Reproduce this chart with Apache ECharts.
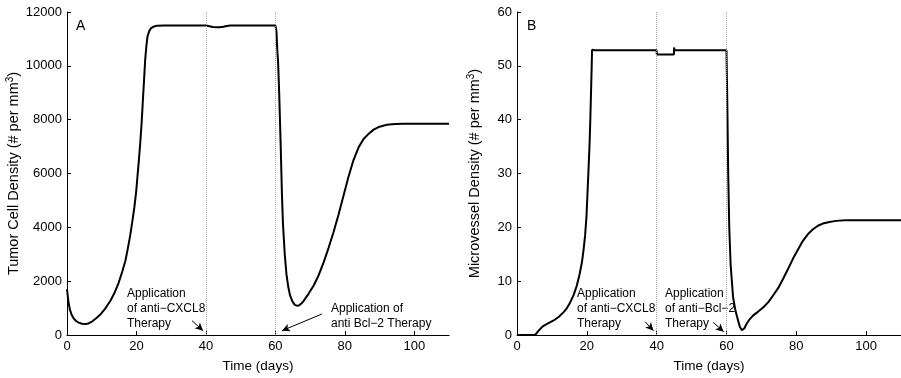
<!DOCTYPE html>
<html><head><meta charset="utf-8">
<script src="https://cdn.jsdelivr.net/npm/echarts@6/dist/echarts.min.js"></script>
<style>html,body{margin:0;padding:0;background:#fff}#c{width:901px;height:378px}</style>
</head><body><div id="c"></div>
<script>
// Panel A: tumor cell density
const tA = [0,0.4,0.8,1.3,1.9,2.6,3.4,4.3,5.3,6.2,7.2,8.4,9.6,11,12.5,13.8,14.9,15.9,16.8,17.5,18.2,18.8,19.4,19.9,20.3,20.7,21.1,21.5,21.8,22.2,22.5,22.9,23.2,23.7,24.2,25,25.9,28,40,41,42,43,44,45,46,47,60,60.3,60.6,60.8,61.1,61.5,61.9,62.2,62.7,63.2,63.7,64.2,64.9,65.6,66.2,66.8,67.5,68.1,69.5,71,72.5,73.9,75.3,76.7,78.2,79.6,81,82.5,84,85.4,86.9,88.3,90,92.1,94.5,97,110];
const yA = [1700,1250,960,760,620,520,460,420,405,430,500,620,760,980,1270,1600,1950,2350,2750,3200,3700,4200,4750,5300,5900,6500,7150,7900,8600,9500,10200,10800,11100,11300,11400,11460,11490,11500,11500,11470,11440,11430,11430,11450,11480,11500,11500,11300,10500,10100,9000,7200,5200,4100,3000,2250,1800,1480,1250,1120,1090,1100,1170,1260,1520,1830,2230,2700,3230,3800,4480,5160,5850,6500,6980,7280,7480,7630,7740,7810,7840,7850,7850];
// Panel B: microvessel density
const tB = [0,5.2,5.6,6.2,6.9,7.6,9,10.5,12,13.3,14.3,15.2,16.2,17.1,17.9,18.6,19.1,19.5,19.9,20.2,20.5,20.8,21,21.2,21.4,21.5,21.6,21.8,22.2,40,40.05,44.95,45,45.15,60,60.2,60.5,60.8,61.2,61.9,62.5,63,63.8,64.4,64.8,65.1,65.7,66.5,67.6,69,70.5,72,73.3,74.8,76.2,77.6,79,80.5,81.9,83.3,84.7,86.2,87.6,89.5,91.4,94,110];
const yB = [0,0,0.3,0.8,1.3,1.7,2.2,2.7,3.4,4.2,5,6,7.4,9.1,11.2,13.5,16,18.4,22,26.4,31,35.7,40,44.9,50,53,53.3,53,52.9,52.9,52.1,52.1,53.4,52.9,52.9,45,30,20,13,7,4.8,3.5,1.6,0.9,0.6,1.2,2.0,2.8,3.6,4.3,5.1,6.1,7.3,8.7,10.4,12.2,14.1,15.9,17.5,18.7,19.6,20.3,20.7,21.0,21.2,21.3,21.3];
const therapyDays = [40, 60];
const arrowsA = [[[36.0, 530], [39.2, 160]], [[73.4, 780], [61.9, 160]]];
const arrowsB = [[[36.7, 2.46], [39.1, 0.8]], [[56.2, 2.35], [59.2, 0.6]]];
const textsA = ['Application\nof anti\u2212CXCL8\nTherapy', 'Application of\nanti Bcl\u22122 Therapy'];
const textsB = ['Application\nof anti\u2212CXCL8\nTherapy', 'Application\nof anti\u2212Bcl\u22122\nTherapy'];

const FONT = "'Liberation Sans', Arial, Helvetica, sans-serif";
const chart = echarts.init(document.getElementById('c'), null, {renderer: 'canvas'});
function xAx(i) {
  return {
    gridIndex: i, type: 'value', min: 0, max: 110, interval: 20,
    axisLine: {lineStyle: {color: '#000', width: 1}},
    axisTick: {inside: true, length: 4, lineStyle: {color: '#000'}},
    splitLine: {show: false},
    axisLabel: {color: '#000', fontSize: 13, fontFamily: FONT, margin: 5,
      showMaxLabel: false},
    name: 'Time (days)', nameLocation: 'middle', nameGap: 24,
    nameTextStyle: {color: '#000', fontSize: 13.5, fontFamily: FONT}
  };
}
function yAx(i, max, interval, nm, gap) {
  return {
    gridIndex: i, type: 'value', min: 0, max: max, interval: interval,
    axisLine: {show: true, lineStyle: {color: '#000', width: 1}},
    axisTick: {show: true, inside: true, length: 4, lineStyle: {color: '#000'}},
    splitLine: {show: false},
    axisLabel: {color: '#000', fontSize: 13, fontFamily: FONT, margin: 5,
      formatter: v => String(v)},
    name: nm + ' (# per mm{sup|3})', nameLocation: 'middle', nameGap: gap,
    nameTextStyle: {color: '#000', fontSize: 14.5, fontFamily: FONT,
      rich: {sup: {fontSize: 10, fontFamily: FONT, color: '#000', verticalAlign: 'top', padding: [0, 0, 8, 0]}}}
  };
}
function arrowML(arr) {
  return {
    silent: true, symbol: ['none', 'arrow'], symbolSize: [6, 8],
    label: {show: false},
    lineStyle: {color: '#000', width: 1, type: 'solid'},
    data: arr.map(a => [{coord: a[0]}, {coord: a[1]}])
  };
}
function vlinesML() {
  return {
    silent: true, symbol: ['none', 'none'], label: {show: false},
    lineStyle: {color: '#a0a0a0', width: 1, type: 'dotted'},
    data: therapyDays.map(d => ({xAxis: d}))
  };
}
function txt(left, top, s) {
  return {type: 'text', left: left, top: top, silent: true,
    style: {text: s, font: '12px ' + FONT, fill: '#000', lineHeight: 15}};
}
chart.setOption({
  animation: false,
  backgroundColor: '#fff',
  grid: [
    {left: 67, top: 12, width: 382, height: 324},
    {left: 517, top: 12, width: 384, height: 324}
  ],
  xAxis: [xAx(0), xAx(1)],
  yAxis: [yAx(0, 12000, 2000, 'Tumor Cell Density', 35), yAx(1, 60, 10, 'Microvessel Density', 33)],
  series: [
    {type: 'line', xAxisIndex: 0, yAxisIndex: 0, showSymbol: false, symbol: 'none',
      lineStyle: {color: '#000', width: 2}, data: tA.map((t, i) => [t, yA[i]]),
      markLine: vlinesML(), z: 3},
    {type: 'line', xAxisIndex: 0, yAxisIndex: 0, data: [], markLine: arrowML(arrowsA)},
    {type: 'line', xAxisIndex: 1, yAxisIndex: 1, showSymbol: false, symbol: 'none',
      lineStyle: {color: '#000', width: 2}, data: tB.map((t, i) => [t, yB[i]]),
      markLine: vlinesML(), z: 3},
    {type: 'line', xAxisIndex: 1, yAxisIndex: 1, data: [], markLine: arrowML(arrowsB)}
  ],
  graphic: [
    {type: 'text', left: 76, top: 19, style: {text: 'A', font: '14px ' + FONT, fill: '#000'}},
    {type: 'text', left: 527, top: 19, style: {text: 'B', font: '14px ' + FONT, fill: '#000'}},
    txt(127, 286, textsA[0]),
    txt(331, 301, textsA[1]),
    txt(577, 286, textsB[0]),
    txt(665, 286, textsB[1])
  ]
});
</script></body></html>
